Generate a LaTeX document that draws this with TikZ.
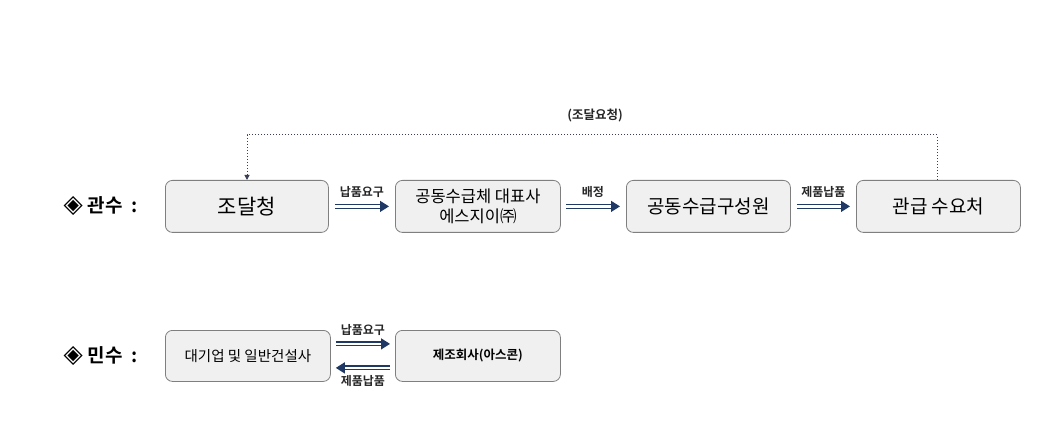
\documentclass[tikz,border=0pt]{standalone}
\usepackage{fontspec}
\setmainfont{Noto Sans CJK KR}
\newfontfamily\kbold{Noto Sans CJK KR Bold}
\newfontfamily\dejavu{DejaVu Sans}
\usetikzlibrary{arrows.meta}
\definecolor{boxfill}{HTML}{F0F0F0}
\definecolor{boxline}{HTML}{7F7F7F}
\definecolor{navy}{HTML}{1F3864}
\definecolor{dotc}{HTML}{3A3F55}
\begin{document}
\begin{tikzpicture}[x=1pt,y=-1pt,
  box/.style={draw=boxline, fill=boxfill, rounded corners=7pt, line width=0.8pt,
    minimum width=163pt, minimum height=52pt, inner sep=2pt, align=center, anchor=north west},
  dbl/.style={draw=navy, double=white, double distance=2.4pt, line width=1.3pt,
    -{Triangle[length=9pt,width=11pt,fill=navy]}},
  lab/.style={font=\kbold\fontsize{12}{14}\selectfont, text=black!85},
  head/.style={font=\kbold\fontsize{19}{22}\selectfont, anchor=west}]
\useasboundingbox (0,0) rectangle (1060,438);
% top row
\node[box, font=\fontsize{21}{24}\selectfont] (a) at (165,180) {조달청};
\node[box, font=\fontsize{16.5}{20}\selectfont, minimum width=165pt] (b) at (395,180) {공동수급체 대표사\\에스지이㈜};
\node[box, font=\fontsize{19}{22}\selectfont, minimum width=164pt] (c) at (626,180) {공동수급구성원};
\node[box, font=\fontsize{19}{22}\selectfont, minimum width=164pt] (d) at (856,180) {관급 수요처};
\node[head] (h1) at (60,206) {{\dejavu\fontsize{25}{25}\selectfont ◈}\hspace{5pt}관수\hspace{9pt}:};
\draw[dbl] ([xshift=6pt]a.east) -- ([xshift=-6pt]b.west) node[lab, midway, above=5pt] (l1) {납품요구};
\draw[dbl] ([xshift=5pt]b.east) -- ([xshift=-6pt]c.west) node[lab, midway, above=5pt] (l2) {배정};
\draw[dbl] ([xshift=6pt]c.east) -- ([xshift=-6pt]d.west) node[lab, midway, above=5pt] (l3) {제품납품};
\coordinate (p1) at (937,135);
\coordinate (p2) at (247,135);
\draw[dotc, dotted, line width=1pt, -{Triangle[length=5pt,width=5pt]}] (d.north -| p1) -- (p1) -- (p2) -- (a.north -| p2);
\node[lab, font=\kbold\fontsize{12.5}{14}\selectfont] (req) at (595,116) {(조달요청)};
% bottom row
\node[box, font=\fontsize{14.5}{17}\selectfont, minimum width=165pt, minimum height=51pt] (e) at (165,330) {대기업 및 일반건설사};
\node[box, font=\kbold\fontsize{12.5}{15}\selectfont, minimum width=165pt, minimum height=51pt] (f) at (395,330) {제조회사(아스콘)};
\node[head] (h2) at (60,356) {{\dejavu\fontsize{25}{25}\selectfont ◈}\hspace{5pt}민수\hspace{9pt}:};
\draw[dbl] ([xshift=5pt,yshift=12pt]e.east) -- ([xshift=-5pt,yshift=12pt]f.west) node[lab, midway, above=4pt] (l4) {납품요구};
\draw[dbl] ([xshift=-5pt,yshift=-12pt]f.west) -- ([xshift=5pt,yshift=-12pt]e.east) node[lab, midway, below=4pt] (l5) {제품납품};
\end{tikzpicture}
\end{document}
